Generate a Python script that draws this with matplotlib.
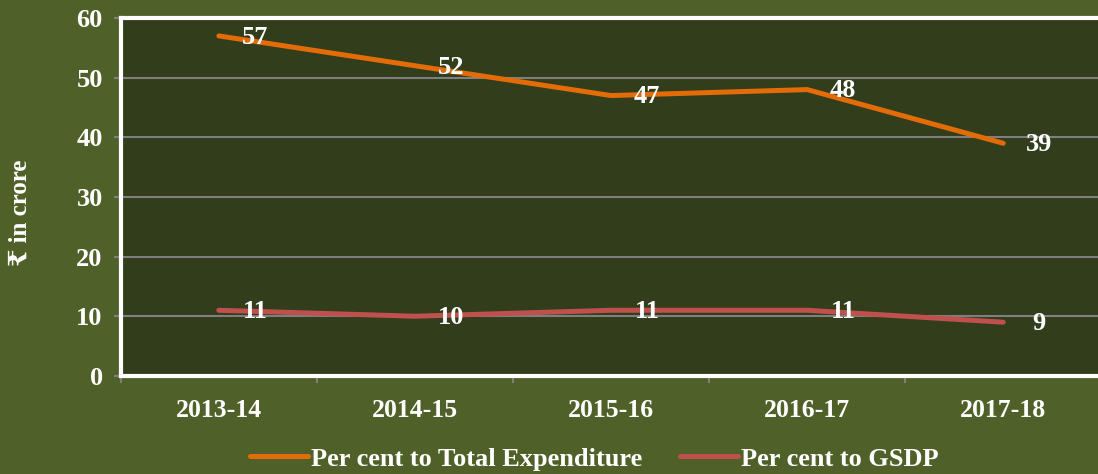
import matplotlib.pyplot as plt
import numpy as np

# Data
years = ['2013-14', '2014-15', '2015-16', '2016-17', '2017-18']
total_exp = [57, 52, 47, 48, 39]
gsdp = [11, 10, 11, 11, 9]

plt.rcParams['font.family'] = ['Liberation Serif', 'DejaVu Serif', 'DejaVu Sans']
plt.rcParams['font.weight'] = 'bold'

fig = plt.figure(figsize=(10.98, 4.74), dpi=100, facecolor='#4F6128')
ax = fig.add_axes([0.110, 0.207, 0.893, 0.755])
ax.set_facecolor('#323D1B')

x = np.arange(len(years))
ax.plot(x, total_exp, color='#E36C09', lw=3.6, solid_capstyle='round',
        label='Per cent to Total Expenditure', zorder=3)
ax.plot(x, gsdp, color='#C0504D', lw=3.6, solid_capstyle='round',
        label='Per cent to GSDP', zorder=3)

# Data labels to the right of each point
for series in (total_exp, gsdp):
    for xi, v in zip(x, series):
        ax.annotate(str(v), (xi, v), xytext=(26, -1), textcoords='offset points',
                    ha='center', va='center', color='white', fontsize=19,
                    fontweight='bold', zorder=4)

ax.set_xlim(-0.5, len(years) - 0.5)
ax.set_ylim(0, 60)
ax.set_yticks(range(0, 61, 10))
ax.set_xticks(x)
ax.set_xticklabels(years)
ax.set_xticks(np.arange(-0.5, len(years), 1), minor=True)

ax.grid(axis='y', color='#7F7F7F', lw=1.5)
ax.set_axisbelow(True)

for s in ax.spines.values():
    s.set_color('white')
    s.set_linewidth(3)

ax.tick_params(axis='y', colors='#7F7F7F', labelcolor='white', labelsize=19,
               direction='out', length=5, width=1.5, pad=8)
ax.tick_params(axis='x', which='major', length=0, labelcolor='white',
               labelsize=18.5, pad=17)
ax.tick_params(axis='x', which='minor', colors='#7F7F7F', direction='out',
               length=5, width=1.5)
for lbl in ax.get_xticklabels() + ax.get_yticklabels():
    lbl.set_fontweight('bold')

fig.text(20 / 1098, 1 - 213 / 474, '₹ in crore', rotation=90, color='white',
         fontsize=18, fontweight='bold', ha='center', va='center')

leg = ax.legend(loc='center', bbox_to_anchor=(0.483, -0.232), ncol=2,
                frameon=False, fontsize=19, handlelength=2.2,
                columnspacing=1.45, handletextpad=0.1, borderaxespad=0)
for t in leg.get_texts():
    t.set_color('white')
    t.set_fontweight('bold')

fig.savefig('out.png', dpi=100, facecolor=fig.get_facecolor())
